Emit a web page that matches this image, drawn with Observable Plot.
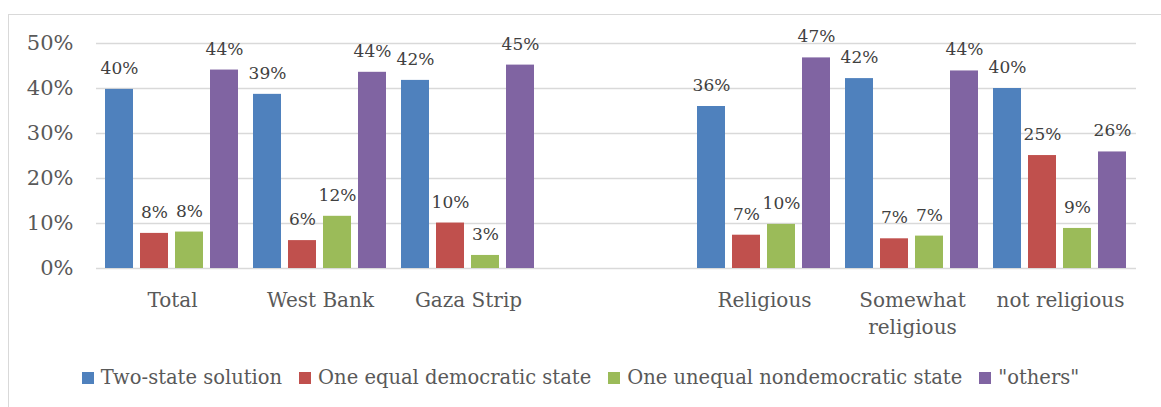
<!DOCTYPE html>
<html><head><meta charset="utf-8">
<script src="https://cdn.jsdelivr.net/npm/d3@7"></script>
<script src="https://cdn.jsdelivr.net/npm/@observablehq/plot@0.6"></script>
<style>
body{margin:0;background:#fff;font-family:"DejaVu Serif",serif;}
#wrap{position:relative;width:1161px;height:407px;overflow:hidden;background:#fff;}
#frame{position:absolute;left:8px;top:14px;width:1300px;height:600px;border-left:1px solid #d9d9d9;border-top:1px solid #d9d9d9;box-sizing:border-box;}
#grid,#chart{position:absolute;left:0;top:0;}
#legend{position:absolute;left:-8px;width:1177px;top:366px;display:flex;justify-content:center;align-items:center;font-size:19.5px;color:#595959;font-family:"DejaVu Serif",serif;white-space:nowrap;}
#legend .item{display:flex;align-items:center;margin:0 8.5px;}
#legend .sw{width:12px;height:12px;margin-right:7px;display:inline-block;}
</style>
</head><body>
<div id="wrap"><div id="frame"></div><div id="grid"></div><div id="chart"></div><div id="legend"></div></div>
<script>
const categories = ["Total","West Bank","Gaza Strip","","Religious","Somewhat religious","not religious"];
const categoryLabels = ["Total","West Bank","Gaza Strip","","Religious","Somewhat\nreligious","not religious"];
const series = ["Two-state solution","One equal democratic state","One unequal nondemocratic state","\"others\""];
const colors = ["#4F81BD","#C0504D","#9BBB59","#8064A2"];
const twoState   = [39.8, 38.7, 41.8, null, 36.0, 42.2, 40.0];
const oneEqual   = [7.8, 6.2, 10.1, null, 7.4, 6.6, 25.1];
const oneUnequal = [8.1, 11.6, 2.9, null, 9.8, 7.2, 8.9];
const others     = [44.1, 43.6, 45.2, null, 46.8, 43.9, 25.9];
const yTicks = [0,10,20,30,40,50];

const seriesValues = [twoState, oneEqual, oneUnequal, others];
const rows = [];
categories.forEach((c,i) => series.forEach((s,j) => {
  const v = seriesValues[j][i];
  if (v != null) rows.push({cat:c, series:s, value:v});
}));

const common = {
  width: 1161, height: 345,
  marginLeft: 96, marginRight: 25, marginTop: 43, marginBottom: 77,
  style: {fontFamily: "DejaVu Serif, serif", color: "#595959", background: "transparent", overflow: "visible"}
};

// background: gridlines + y axis (not faceted, spans the whole plot width)
const grid = Plot.plot({
  ...common,
  y: {domain: [0,50], label: null},
  marks: [
    Plot.ruleY(yTicks, {stroke: "#d9d9d9", strokeWidth: 1.5}),
    Plot.axisY({ticks: yTicks, tickFormat: d => d + "%", tickSize: 0, tickPadding: 23, fontSize: 21, label: null, color: "#595959"})
  ]
});
document.getElementById("grid").appendChild(grid);

// foreground: grouped bars
const chart = Plot.plot({
  ...common,
  fx: {domain: categories, padding: 0, label: null},
  x: {domain: series, paddingInner: 0.194, paddingOuter: 0.158, axis: null},
  y: {domain: [0,50], label: null, axis: null},
  color: {domain: series, range: colors},
  marks: [
    Plot.barY(rows, {fx: "cat", x: "series", y: "value", fill: "series"}),
    Plot.text(rows, {fx: "cat", x: "series", y: "value", text: d => Math.round(d.value) + "%", dy: -21, fontSize: 17, fill: "#404040"}),
    Plot.axisFx({anchor: "bottom", tickSize: 0, tickPadding: 19, fontSize: 20, lineHeight: 1.35, label: null, color: "#595959",
      tickFormat: d => categoryLabels[categories.indexOf(d)]})
  ]
});
document.getElementById("chart").appendChild(chart);

const legend = document.getElementById("legend");
series.forEach((s,i) => {
  const it = document.createElement("span"); it.className = "item";
  const sw = document.createElement("span"); sw.className = "sw"; sw.style.background = colors[i];
  const tx = document.createElement("span"); tx.textContent = s;
  it.appendChild(sw); it.appendChild(tx); legend.appendChild(it);
});
</script>
</body></html>
